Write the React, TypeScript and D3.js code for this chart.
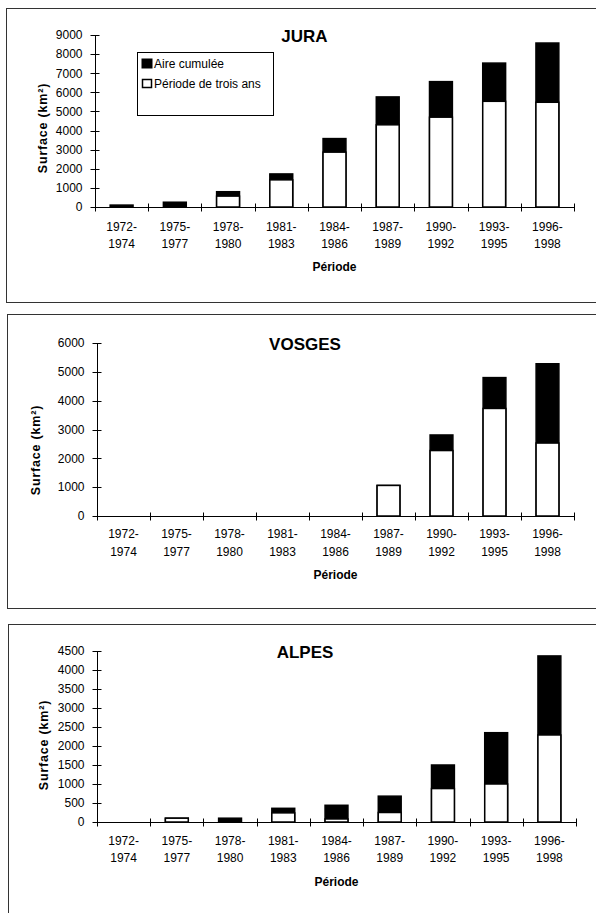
import React from "react";
import * as d3 from "d3";

const periodStart = ["1972-", "1975-", "1978-", "1981-", "1984-", "1987-", "1990-", "1993-", "1996-"];
const periodEnd = ["1974", "1977", "1980", "1983", "1986", "1989", "1992", "1995", "1998"];
const periods = periodStart.map((s, i) => s + periodEnd[i]);

const juraCumul = [100, 250, 800, 1730, 3580, 5760, 6560, 7530, 8580];
const juraPeriode = [0, 0, 570, 1420, 2870, 4300, 4700, 5530, 5480];
const juraTicks = [0, 1000, 2000, 3000, 4000, 5000, 6000, 7000, 8000, 9000];

const vosgesCumul = [0, 0, 0, 0, 0, 1060, 2810, 4800, 5280];
const vosgesPeriode = [0, 0, 0, 0, 0, 1060, 2270, 3730, 2530];
const vosgesTicks = [0, 1000, 2000, 3000, 4000, 5000, 6000];

const alpesCumul = [0, 100, 100, 360, 440, 680, 1500, 2350, 4370];
const alpesPeriode = [0, 100, 0, 240, 80, 250, 880, 1000, 2290];
const alpesTicks = [0, 500, 1000, 1500, 2000, 2500, 3000, 3500, 4000, 4500];

const legendLabels = ["Aire cumulée", "Période de trois ans"];

const FONT = "'Liberation Sans', Arial, sans-serif";

type PanelProps = {
  title: string;
  cumul: number[];
  periode: number[];
  ticks: number[];
  box: [number, number, number, number];
  axisLeft: number;
  axisRight: number;
  y0: number;
  yTop: number;
  titleX: number;
  titleY: number;
  ylabX: number;
  ylabY: number;
  lab1Y: number;
  lab2Y: number;
  perY: number;
  legend?: boolean;
};

function Panel(p: PanelProps) {
  const x = d3.scaleBand<string>().domain(periods).range([p.axisLeft, p.axisRight]).paddingInner(0.57).paddingOuter(0.285);
  const step = (p.axisRight - p.axisLeft) / periods.length;
  const y = d3.scaleLinear().domain([0, p.ticks[p.ticks.length - 1]]).range([p.y0, p.yTop]);
  const bw = x.bandwidth();
  return (
    <g>
      <rect x={p.box[0] + 0.5} y={p.box[1] + 0.5} width={p.box[2]} height={p.box[3]} fill="white" stroke="#333" strokeWidth={1} />
      {periods.map((d, i) =>
        p.cumul[i] > 0 ? (
          <rect key={"c" + i} x={x(d)} y={y(p.cumul[i])} width={bw} height={p.y0 - y(p.cumul[i])} fill="#000" stroke="#000" strokeWidth={1.5} />
        ) : null
      )}
      {periods.map((d, i) =>
        p.periode[i] > 0 ? (
          <rect key={"p" + i} x={x(d)} y={y(p.periode[i])} width={bw} height={p.y0 - y(p.periode[i])} fill="#fff" stroke="#000" strokeWidth={1.5} />
        ) : null
      )}
      <line x1={p.axisLeft + 0.5} x2={p.axisLeft + 0.5} y1={y(p.ticks[p.ticks.length - 1])} y2={p.y0} stroke="#000" strokeWidth={1} />
      {p.ticks.map((t) => (
        <g key={"yt" + t}>
          <line x1={p.axisLeft - 4.5} x2={p.axisLeft + 4.5} y1={Math.round(y(t)) + 0.5} y2={Math.round(y(t)) + 0.5} stroke="#000" strokeWidth={1} />
          <text x={p.axisLeft - 12.5} y={y(t)} dy="0.36em" textAnchor="end" fontSize={12} fontFamily={FONT} fill="#000">
            {t}
          </text>
        </g>
      ))}
      <line x1={p.axisLeft} x2={p.axisRight} y1={p.y0 + 0.5} y2={p.y0 + 0.5} stroke="#000" strokeWidth={1} />
      {d3.range(periods.length + 1).map((i) => (
        <line key={"xt" + i} x1={Math.round(p.axisLeft + i * step) + 0.5} x2={Math.round(p.axisLeft + i * step) + 0.5} y1={p.y0 - 3.5} y2={p.y0 + 4.5} stroke="#000" strokeWidth={1} />
      ))}
      {periods.map((d, i) => (
        <g key={"xl" + i}>
          <text x={(x(d) as number) + bw / 2} y={p.lab1Y} textAnchor="middle" fontSize={12} fontFamily={FONT} fill="#000">
            {periodStart[i]}
          </text>
          <text x={(x(d) as number) + bw / 2} y={p.lab2Y} textAnchor="middle" fontSize={12} fontFamily={FONT} fill="#000">
            {periodEnd[i]}
          </text>
        </g>
      ))}
      <text x={(p.axisLeft + p.axisRight) / 2} y={p.perY} textAnchor="middle" fontSize={12} fontWeight="bold" fontFamily={FONT} fill="#000">
        Période
      </text>
      <text x={p.titleX} y={p.titleY} textAnchor="middle" fontSize={17} fontWeight="bold" fontFamily={FONT} fill="#000">
        {p.title}
      </text>
      <text
        transform={`translate(${p.ylabX},${p.ylabY}) rotate(-90)`}
        textAnchor="middle"
        dominantBaseline="central"
        fontSize={12.5}
        letterSpacing={0.8}
        fontWeight="bold"
        fontFamily={FONT}
        fill="#000"
      >
        Surface (km²)
      </text>
      {p.legend ? (
        <g>
          <rect x={137.5} y={52.5} width={136} height={63} fill="#fff" stroke="#000" strokeWidth={1} />
          <rect x={142} y={59} width={10} height={9} fill="#000" stroke="#000" strokeWidth={1} />
          <text x={154} y={67.5} fontSize={12} fontFamily={FONT} fill="#000">
            {legendLabels[0]}
          </text>
          <rect x={142.5} y={79.5} width={9} height={8} fill="#fff" stroke="#000" strokeWidth={1.5} />
          <text x={154} y={87.5} fontSize={12} fontFamily={FONT} fill="#000">
            {legendLabels[1]}
          </text>
        </g>
      ) : null}
    </g>
  );
}

export default function App() {
  return (
    <div style={{ position: "absolute", left: 0, top: 0 }}>
      <svg width={596} height={913} style={{ display: "block", background: "#fff" }}>
        <rect x={0} y={0} width={596} height={913} fill="#fff" />
        <Panel
          title="JURA"
          cumul={juraCumul}
          periode={juraPeriode}
          ticks={juraTicks}
          box={[6, 8, 600, 294]}
          axisLeft={95}
          axisRight={574}
          y0={207}
          yTop={35}
          titleX={304.5}
          titleY={42}
          ylabX={42.5}
          ylabY={128}
          lab1Y={231}
          lab2Y={247.5}
          perY={271}
          legend
        />
        <Panel
          title="VOSGES"
          cumul={vosgesCumul}
          periode={vosgesPeriode}
          ticks={vosgesTicks}
          box={[7, 314, 600, 294]}
          axisLeft={97}
          axisRight={574}
          y0={516}
          yTop={343}
          titleX={305}
          titleY={350}
          ylabX={35.5}
          ylabY={450}
          lab1Y={538}
          lab2Y={556}
          perY={579}
        />
        <Panel
          title="ALPES"
          cumul={alpesCumul}
          periode={alpesPeriode}
          ticks={alpesTicks}
          box={[8, 624, 600, 300]}
          axisLeft={97}
          axisRight={576}
          y0={822}
          yTop={651}
          titleX={305}
          titleY={658}
          ylabX={43.8}
          ylabY={745}
          lab1Y={845}
          lab2Y={862}
          perY={886}
        />
      </svg>
    </div>
  );
}
